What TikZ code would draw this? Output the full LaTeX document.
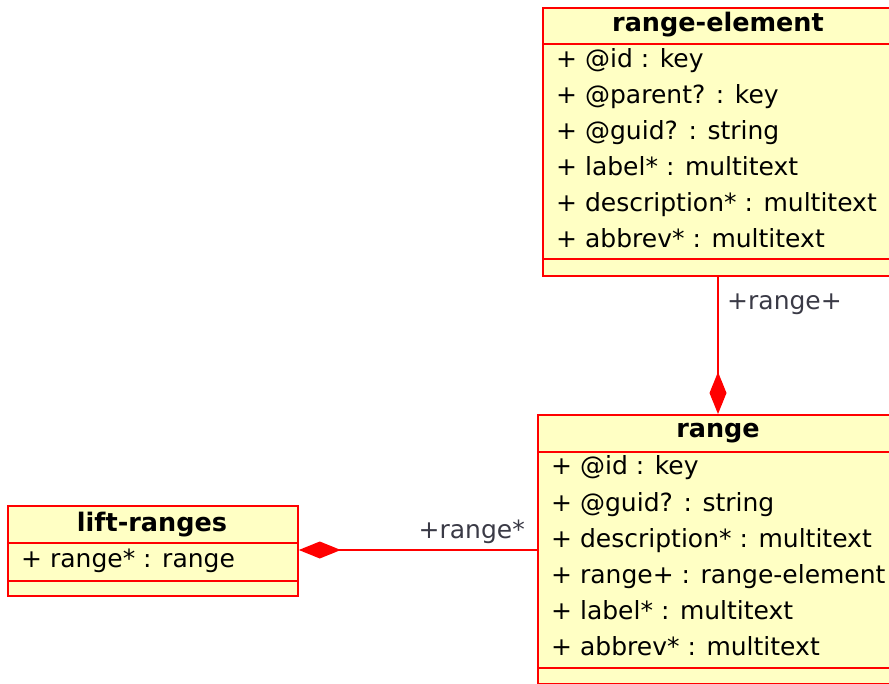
\documentclass[tikz,border=0pt]{standalone}
\usepackage{fontspec}
\setmainfont{DejaVu Sans}
\usetikzlibrary{arrows.meta}
\definecolor{umlfill}{RGB}{255,255,196}
\definecolor{umlred}{RGB}{255,0,0}
\definecolor{lblgray}{RGB}{58,58,70}
\tikzset{
  comp/.style={draw=umlred, line width=1.8pt, fill=umlfill, anchor=north west, inner sep=0pt},
  headtxt/.style={anchor=base, inner sep=0pt, font=\fontsize{25.5}{30}\selectfont\bfseries},
  attrtxt/.style={anchor=base west, inner sep=0pt, font=\fontsize{25}{30}\selectfont},
  lbltxt/.style={anchor=base west, inner sep=0pt, text=lblgray, font=\fontsize{25}{30}\selectfont},
  compos/.style={draw=umlred, line width=1.6pt, -{Diamond[length=42pt,width=17pt,fill=umlred]}},
}
\begin{document}
\begin{tikzpicture}[x=1pt,y=-1pt]
\useasboundingbox (0,0) rectangle (889,684);
% range-element
\node[comp, minimum width=352pt, minimum height=36pt] (reH) at (542,7) {};
\node[comp, minimum width=352pt, minimum height=215pt] (reA) at (542,43) {};
\node[comp, minimum width=352pt, minimum height=17pt] (reO) at (542,258) {};
\node[headtxt] (reT) at (718,32) {range-element};
\node[attrtxt] (re1) at (556,68) {+ @id : key};
\node[attrtxt] (re2) at (556,104) {+ @parent? : key};
\node[attrtxt] (re3) at (556,140) {+ @guid? : string};
\node[attrtxt] (re4) at (556,176) {+ label* : multitext};
\node[attrtxt] (re5) at (556,212) {+ description* : multitext};
\node[attrtxt] (re6) at (556,248) {+ abbrev* : multitext};
% range
\node[comp, minimum width=362pt, minimum height=37pt] (rgH) at (537,414) {};
\node[comp, minimum width=362pt, minimum height=216pt] (rgA) at (537,451) {};
\node[comp, minimum width=362pt, minimum height=16pt] (rgO) at (537,667) {};
\node[headtxt] (rgT) at (718,438) {range};
\node[attrtxt] (rg1) at (551,475) {+ @id : key};
\node[attrtxt] (rg2) at (551,511) {+ @guid? : string};
\node[attrtxt] (rg3) at (551,547) {+ description* : multitext};
\node[attrtxt] (rg4) at (551,583) {+ range+ : range-element};
\node[attrtxt] (rg5) at (551,619) {+ label* : multitext};
\node[attrtxt] (rg6) at (551,655) {+ abbrev* : multitext};
% lift-ranges
\node[comp, minimum width=290pt, minimum height=37pt] (lrH) at (7,505) {};
\node[comp, minimum width=290pt, minimum height=38pt] (lrA) at (7,542) {};
\node[comp, minimum width=290pt, minimum height=15pt] (lrO) at (7,580) {};
\node[headtxt] (lrT) at (152,531) {lift-ranges};
\node[attrtxt] (lr1) at (21,567) {+ range* : range};
% connectors
\draw[compos] (reO.south -| reT) -- (rgH.north -| reT);
\node[lbltxt] (l1) at (727,310) {+range+};
\coordinate (hy) at (0,550);
\draw[compos] (rgA.west |- hy) -- (lrA.east |- hy);
\node[lbltxt, anchor=base east] (l2) at (525,538) {+range*};
\end{tikzpicture}
\end{document}
